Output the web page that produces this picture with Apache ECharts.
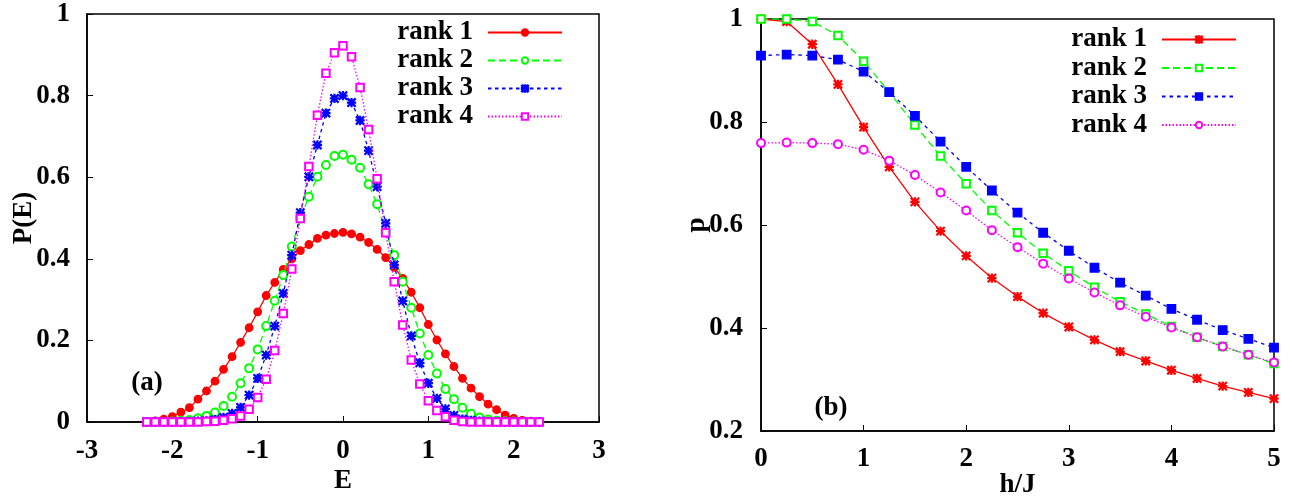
<!DOCTYPE html>
<html><head><meta charset="utf-8">
<script src="https://cdn.jsdelivr.net/npm/echarts@6/dist/echarts.min.js"></script>
<style>html,body{margin:0;padding:0;background:#fff}#c{width:1294px;height:497px}</style>
</head><body><div id="c"></div>
<script>
// Panel (a): energy distribution P(E)
const energyX = [-2.3,-2.2,-2.1,-2.0,-1.9,-1.8,-1.7,-1.6,-1.5,-1.4,-1.3,-1.2,-1.1,-1.0,-0.9,-0.8,-0.7,-0.6,-0.5,-0.4,-0.3,-0.2,-0.1,
  0,0.1,0.2,0.3,0.4,0.5,0.6,0.7,0.8,0.9,1.0,1.1,1.2,1.3,1.4,1.5,1.6,1.7,1.8,1.9,2.0,2.1,2.2,2.3];
const pRank1 = [0.001,0.003,0.007,0.013,0.024,0.035,0.056,0.076,0.100,0.129,0.160,0.195,0.231,0.270,0.310,0.342,0.374,0.400,0.420,0.435,0.450,0.458,0.462,
  0.465,0.461,0.453,0.440,0.423,0.403,0.379,0.352,0.318,0.280,0.239,0.201,0.167,0.136,0.107,0.083,0.062,0.044,0.030,0.017,0.009,0.004,0.002,0.001];
const pRank2 = [0,0,0,0.001,0.003,0.005,0.009,0.015,0.023,0.039,0.062,0.095,0.132,0.178,0.235,0.297,0.360,0.430,0.499,0.552,0.601,0.630,0.652,
  0.655,0.643,0.623,0.583,0.534,0.465,0.409,0.344,0.280,0.217,0.164,0.119,0.081,0.056,0.035,0.020,0.011,0.006,0.003,0.002,0.001,0,0,0];
const pRank3 = [0,0,0,0,0,0.001,0.002,0.003,0.006,0.011,0.021,0.036,0.066,0.107,0.164,0.235,0.315,0.409,0.513,0.601,0.679,0.757,0.793,
  0.800,0.783,0.739,0.665,0.577,0.487,0.385,0.297,0.211,0.145,0.095,0.058,0.032,0.016,0.007,0.004,0.002,0.001,0,0,0,0,0,0];
const pRank4 = [0,0,0,0,0,0,0,0.001,0.002,0.004,0.008,0.015,0.031,0.060,0.105,0.175,0.266,0.375,0.499,0.626,0.752,0.855,0.905,
  0.922,0.895,0.820,0.717,0.596,0.464,0.344,0.238,0.152,0.093,0.052,0.028,0.013,0.004,0.001,0,0,0,0,0,0,0,0,0];

// Panel (b): p versus h/J
const fieldX = [0,0.25,0.5,0.75,1,1.25,1.5,1.75,2,2.25,2.5,2.75,3,3.25,3.5,3.75,4,4.25,4.5,4.75,5];
const bRank1 = [1.0,0.995,0.951,0.873,0.790,0.713,0.645,0.588,0.540,0.497,0.461,0.429,0.402,0.377,0.354,0.336,0.318,0.302,0.287,0.275,0.263];
const bRank2 = [1.0,1.0,0.995,0.968,0.918,0.858,0.794,0.734,0.680,0.628,0.585,0.545,0.511,0.479,0.451,0.427,0.403,0.382,0.364,0.348,0.331];
const bRank3 = [0.929,0.931,0.929,0.921,0.898,0.858,0.812,0.762,0.713,0.667,0.624,0.585,0.550,0.517,0.488,0.463,0.437,0.416,0.396,0.379,0.362];
const bRank4 = [0.759,0.760,0.759,0.757,0.746,0.725,0.697,0.663,0.628,0.590,0.557,0.525,0.496,0.469,0.444,0.422,0.401,0.382,0.364,0.348,0.333];

const rankNames = ['rank 1','rank 2','rank 3','rank 4'];

const FONT = 'Liberation Serif';
const STAR = 'path://M0 4.4L10 4.4L10 5.6L0 5.6Z M4.4 0L5.6 0L5.6 10L4.4 10Z M0 0.8L0.8 0L10 9.2L9.2 10Z M9.2 0L10 0.8L0.8 10L0 9.2Z';
const RED='#ff0000', GREEN='#00ff00', BLUE='#0000ff', MAG='#ff00ff';

function pairs(xs, ys){ return xs.map((x,i)=>[x, ys[i]]); }

function mk(prefix, idx, name, xs, ys, color, dash, symbol, size, axisIdx){
  return {
    type:'line', name: prefix + name, xAxisIndex: axisIdx, yAxisIndex: axisIdx,
    data: pairs(xs, ys), symbol: symbol, symbolSize: size, showSymbol: true,
    lineStyle: {color: color, width: 1.3, type: dash},
    itemStyle: {color: color, borderColor: color, borderWidth: 1.3},
    emphasis: {disabled: true}, z: 2 + idx
  };
}

const axisLabel = {color:'#000', fontFamily: FONT, fontWeight:'bold', fontSize:27};
const axisLine = {show:true, onZero:false, lineStyle:{color:'#000', width:1.5}};
const axisTick = {show:true, inside:true, length:6, lineStyle:{color:'#000', width:1}};
const nameStyle = {color:'#000', fontFamily: FONT, fontWeight:'bold', fontSize:27};

const legendText = {color:'#000', fontFamily: FONT, fontWeight:'bold', fontSize:27, padding:[0,10,0,0]};

const option = {
  animation:false,
  backgroundColor:'#fff',
  grid:[
    {left:87, top:14, width:512, height:408, show:true, borderColor:'#000', borderWidth:1.5, backgroundColor:'transparent', outerBoundsMode:'none', containLabel:false},
    {left:761, top:19, width:513, height:412, show:true, borderColor:'#000', borderWidth:1.5, backgroundColor:'transparent', outerBoundsMode:'none', containLabel:false}
  ],
  xAxis:[
    {type:'value', gridIndex:0, min:-3, max:3, interval:1, name:'E', nameLocation:'middle', nameGap:46, nameMoveOverlap:false, nameTextStyle:nameStyle,
     axisLine, axisTick, axisLabel:{...axisLabel, margin:16}, splitLine:{show:false}},
    {type:'value', gridIndex:1, min:0, max:5, interval:1, name:'h/J', nameLocation:'middle', nameGap:41, nameMoveOverlap:false, nameTextStyle:nameStyle,
     axisLine, axisTick, axisLabel:{...axisLabel, margin:15}, splitLine:{show:false}}
  ],
  yAxis:[
    {type:'value', gridIndex:0, min:0, max:1, interval:0.2, name:'P(E)', nameLocation:'middle', nameGap:49, nameMoveOverlap:false, nameRotate:90, nameTextStyle:nameStyle,
     axisLine, axisTick, axisLabel:{...axisLabel, margin:17}, splitLine:{show:false}},
    {type:'value', gridIndex:1, min:0.2, max:1, interval:0.2, name:'p', nameLocation:'middle', nameGap:50, nameMoveOverlap:false, nameRotate:90, nameTextStyle:nameStyle,
     axisLine, axisTick, axisLabel:{...axisLabel, margin:18}, splitLine:{show:false}}
  ],
  legend:[
    {data: rankNames.map(n=>'a:'+n), orient:'vertical', right:726, top:14, align:'right', itemWidth:74, itemHeight:8, itemGap:1,
     selectedMode:false, textStyle:legendText, formatter:n=>n.slice(2)},
    {data: rankNames.map(n=>'b:'+n), orient:'vertical', right:52, top:21, align:'right', itemWidth:74, itemHeight:8, itemGap:1.5,
     selectedMode:false, textStyle:legendText, formatter:n=>n.slice(2)}
  ],
  graphic:[
    {type:'text', x:147, y:383, style:{text:'(a)', fill:'#000', font:'bold 27px "Liberation Serif"', textAlign:'center', textVerticalAlign:'middle'}},
    {type:'text', x:831, y:408, style:{text:'(b)', fill:'#000', font:'bold 27px "Liberation Serif"', textAlign:'center', textVerticalAlign:'middle'}}
  ],
  series:[
    mk('a:',0,rankNames[0],energyX,pRank1,RED,'solid','circle',7.5,0),
    mk('a:',1,rankNames[1],energyX,pRank2,GREEN,[7,4],'emptyCircle',8,0),
    mk('a:',2,rankNames[2],energyX,pRank3,BLUE,[3.5,3.5],STAR,8,0),
    mk('a:',3,rankNames[3],energyX,pRank4,MAG,[1.5,2],'emptyRect',7.5,0),
    mk('b:',0,rankNames[0],fieldX,bRank1,RED,'solid',STAR,8,1),
    mk('b:',1,rankNames[1],fieldX,bRank2,GREEN,[7,4],'emptyRect',7.5,1),
    mk('b:',2,rankNames[2],fieldX,bRank3,BLUE,[3.5,4],'rect',8.5,1),
    mk('b:',3,rankNames[3],fieldX,bRank4,MAG,[1.5,2],'emptyCircle',8,1)
  ]
};
const chart = echarts.init(document.getElementById('c'), null, {renderer:'canvas'});
chart.setOption(option);
</script>
</body></html>
